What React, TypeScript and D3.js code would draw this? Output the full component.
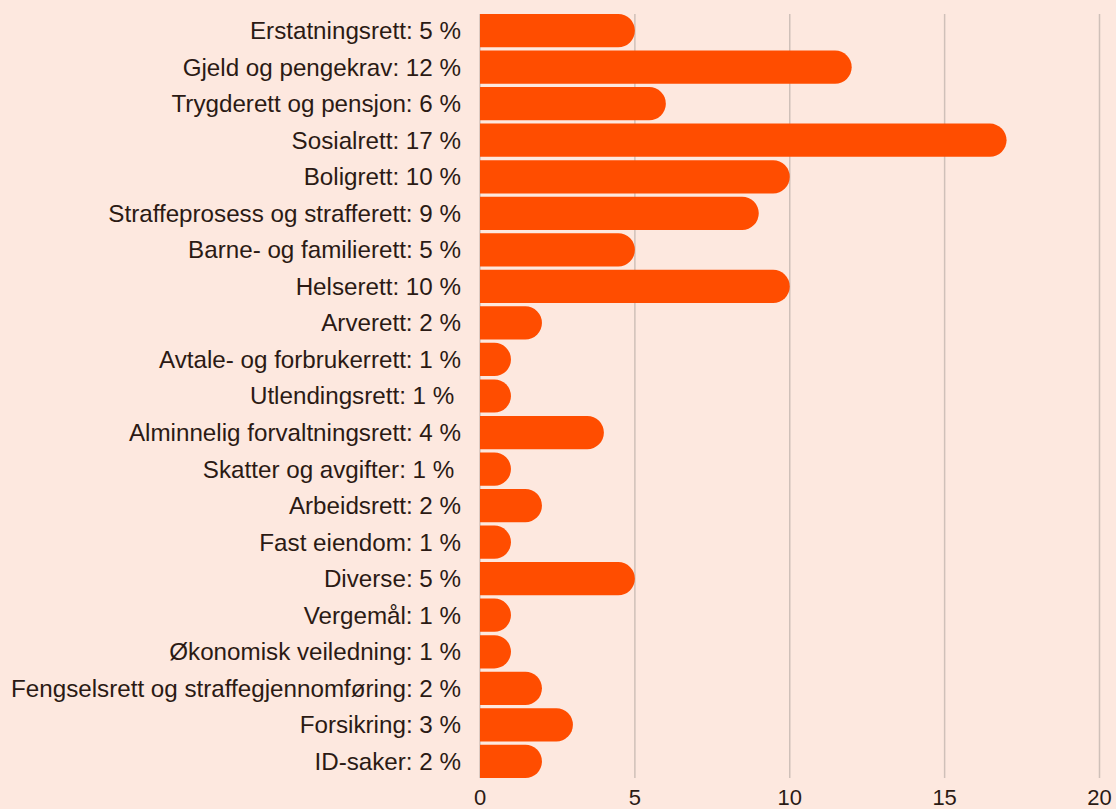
import React, { useEffect, useRef } from 'react';
import * as d3 from 'd3';

const categories = [
  'Erstatningsrett',
  'Gjeld og pengekrav',
  'Trygderett og pensjon',
  'Sosialrett',
  'Boligrett',
  'Straffeprosess og strafferett',
  'Barne- og familierett',
  'Helserett',
  'Arverett',
  'Avtale- og forbrukerrett',
  'Utlendingsrett',
  'Alminnelig forvaltningsrett',
  'Skatter og avgifter',
  'Arbeidsrett',
  'Fast eiendom',
  'Diverse',
  'Vergemål',
  'Økonomisk veiledning',
  'Fengselsrett og straffegjennomføring',
  'Forsikring',
  'ID-saker',
];

const values = [5, 12, 6, 17, 10, 9, 5, 10, 2, 1, 1, 4, 1, 2, 1, 5, 1, 1, 2, 3, 2];

// a couple of labels in the original carry a trailing space
const trailing = ['Utlendingsrett', 'Skatter og avgifter'];

const xTicks = [0, 5, 10, 15, 20];

const App = () => {
  const ref = useRef<SVGSVGElement>(null);

  useEffect(() => {
    document.body.style.margin = '0';

    const width = 1116;
    const height = 809;
    const margin = { top: 14, right: 16.5, bottom: 31, left: 480 };

    const svg = d3.select(ref.current);
    svg.selectAll('*').remove();
    svg.attr('width', width).attr('height', height);

    svg.append('rect')
      .attr('width', width)
      .attr('height', height)
      .attr('fill', '#fde8df');

    const x = d3.scaleLinear()
      .domain([0, 20])
      .range([margin.left, width - margin.right]);

    const y = d3.scaleBand()
      .domain(categories)
      .range([margin.top, height - margin.bottom])
      .paddingInner(0.09)
      .paddingOuter(0);

    // gridlines
    svg.append('g')
      .selectAll('line')
      .data(xTicks)
      .join('line')
      .attr('x1', d => x(d))
      .attr('x2', d => x(d))
      .attr('y1', margin.top)
      .attr('y2', height - margin.bottom)
      .attr('stroke', '#cfc0b9')
      .attr('stroke-width', 1.5);

    // bars: square on the left, rounded on the right
    const h = y.bandwidth();
    const barPath = (v: number, top: number) => {
      const x0 = x(0);
      const w = x(v) - x0;
      const r = Math.min(h / 2, w);
      return `M${x0},${top}H${x0 + w - r}A${r},${h / 2} 0 0 1 ${x0 + w},${top + h / 2}`
        + `A${r},${h / 2} 0 0 1 ${x0 + w - r},${top + h}H${x0}Z`;
    };

    svg.append('g')
      .selectAll('path')
      .data(categories)
      .join('path')
      .attr('d', (c, i) => barPath(values[i], y(c)!))
      .attr('fill', '#ff4d00');

    // category labels
    svg.append('g')
      .selectAll('text')
      .data(categories)
      .join('text')
      .attr('x', x(0) - 19)
      .attr('y', c => y(c)! + h / 2)
      .attr('dy', '0.35em')
      .attr('text-anchor', 'end')
      .style('white-space', 'pre')
      .attr('font-family', '"Liberation Sans", Arial, sans-serif')
      .attr('font-size', 24.2)
      .attr('fill', '#2b1a14')
      .text((c, i) => `${c}: ${values[i]} %${trailing.includes(c) ? '\u00a0' : ''}`);

    // x tick labels
    svg.append('g')
      .selectAll('text')
      .data(xTicks)
      .join('text')
      .attr('x', d => x(d))
      .attr('y', 805)
      .attr('text-anchor', 'middle')
      .attr('font-family', '"Liberation Sans", Arial, sans-serif')
      .attr('font-size', 22)
      .attr('fill', '#2b1a14')
      .text(d => d);
  }, []);

  return <svg ref={ref} style={{ display: 'block' }}></svg>;
};

export default App;
